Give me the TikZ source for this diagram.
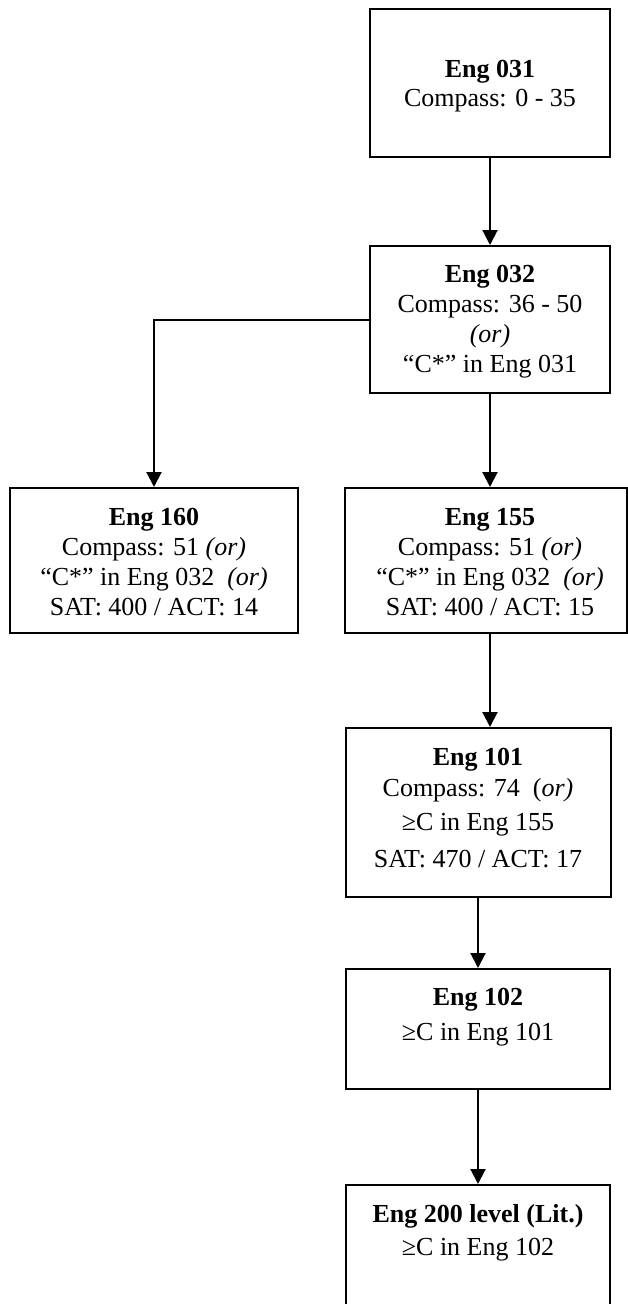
\documentclass[tikz,border=0pt]{standalone}
\usepackage{fontspec}
\setmainfont{Liberation Serif}
\usetikzlibrary{arrows.meta}
\tikzset{
  box/.style={draw=black, line width=2pt, rectangle, inner sep=0pt},
  txt/.style={anchor=base, inner sep=0pt, font=\fontsize{26}{30}\selectfont},
  conn/.style={line width=2pt, -{Triangle[width=15pt,length=15pt]}}
}
\begin{document}
\begin{tikzpicture}[x=1pt,y=-1pt]
\useasboundingbox (0,0) rectangle (628,1304);
% boxes
\node[box, minimum width=240pt, minimum height=148pt] (b031) at (490,83) {};
\node[box, minimum width=240pt, minimum height=147pt] (b032) at (490,319.5) {};
\node[box, minimum width=288pt, minimum height=145pt] (b160) at (154,560.5) {};
\node[box, minimum width=282pt, minimum height=145pt] (b155) at (486,560.5) {};
\node[box, minimum width=265pt, minimum height=169pt] (b101) at (478,812.5) {};
\node[box, minimum width=264pt, minimum height=120pt] (b102) at (478,1029) {};
\node[box, minimum width=264pt, minimum height=140pt] (b200) at (478,1255) {};
% texts
\node[txt] (t031a) at (490,77) {\textbf{Eng 031}};
\node[txt] (t031b) at (490,106) {Compass: 0 - 35};
\node[txt] (t032a) at (490,282) {\textbf{Eng 032}};
\node[txt] (t032b) at (490,312) {Compass: 36 - 50};
\node[txt] (t032c) at (490,342) {\textit{(or)}};
\node[txt] (t032d) at (490,372) {“C*” in Eng 031};
\node[txt] (t160a) at (154,525) {\textbf{Eng 160}};
\node[txt] (t160b) at (154,555) {Compass: 51 \textit{(or)}};
\node[txt] (t160c) at (154,585) {“C*” in Eng 032~ \textit{(or)}};
\node[txt] (t160d) at (154,615) {SAT: 400 / ACT: 14};
\node[txt] (t155a) at (490,525) {\textbf{Eng 155}};
\node[txt] (t155b) at (490,555) {Compass: 51 \textit{(or)}};
\node[txt] (t155c) at (490,585) {“C*” in Eng 032~ \textit{(or)}};
\node[txt] (t155d) at (490,615) {SAT: 400 / ACT: 15};
\node[txt] (t101a) at (478,765) {\textbf{Eng 101}};
\node[txt] (t101b) at (478,796) {Compass: 74~ (\textit{or)}};
\node[txt] (t101c) at (478,830) {≥C in Eng 155};
\node[txt] (t101d) at (478,867) {SAT: 470 / ACT: 17};
\node[txt] (t102a) at (478,1005) {\textbf{Eng 102}};
\node[txt] (t102b) at (478,1040) {≥C in Eng 101};
\node[txt] (t200a) at (478,1222) {\textbf{Eng 200 level (Lit.)}};
\node[txt] (t200b) at (478,1255) {≥C in Eng 102};
% connectors
\draw[conn] (b031.south) -- (b032.north);
\draw[conn] (b032.south) -- (b032.south |- b155.north);
\draw[conn] (b032.west) -| (b160.north);
\draw[conn] ([xshift=4pt]b155.south) -- ([xshift=4pt]b155.south |- b101.north);
\draw[conn] (b101.south) -- (b101.south |- b102.north);
\draw[conn] (b102.south) -- (b102.south |- b200.north);
\end{tikzpicture}
\end{document}
